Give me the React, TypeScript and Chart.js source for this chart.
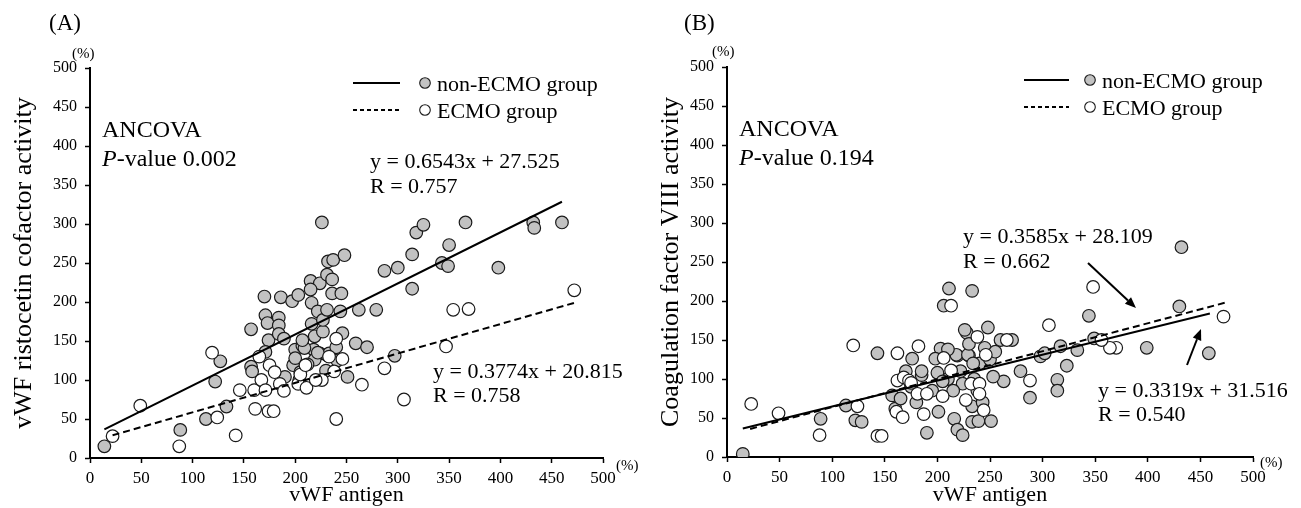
import React, { useEffect, useRef } from "react";
import { Chart, registerables } from "chart.js";

Chart.register(...registerables);

const SERIF = "'Liberation Serif', 'Times New Roman', Times, serif";

// ---------- data ----------
const AXIS_MIN = 0;
const AXIS_MAX = 500;
const AXIS_STEP = 50;

const X_TITLE = "vWF antigen";
const A_Y_TITLE = "vWF ristocetin cofactor activity";
const B_Y_TITLE = "Coagulation factor VIII activity";

const LEGEND_LABELS = ["non-ECMO group", "ECMO group"];

// Panel A: vWF antigen (x) vs vWF ristocetin cofactor activity (y)
const A_NON_ECMO: [number, number][] = [
  [14, 15], [88, 36], [113, 50], [122, 98], [127, 124], [133, 66], [157, 165], [157, 117],
  [158, 111], [170, 207], [171, 183], [173, 173], [174, 151], [171, 136], [184, 180], [184, 170],
  [186, 206], [184, 159], [189, 153], [197, 201], [203, 209], [200, 139], [207, 144], [198, 119],
  [200, 128], [190, 104], [215, 227], [216, 199], [216, 172], [222, 188], [224, 224], [219, 156],
  [218, 139], [227, 162], [224, 134], [231, 132], [227, 177], [219, 126], [232, 252], [237, 254],
  [248, 260], [226, 302], [262, 190], [279, 190], [244, 188], [231, 235], [236, 229], [236, 211],
  [245, 211], [231, 190], [246, 160], [259, 147], [270, 142], [251, 104], [297, 131], [233, 134],
  [209, 141], [207, 151], [287, 240], [300, 244], [314, 261], [318, 289], [325, 299], [343, 250],
  [349, 246], [350, 273], [366, 302], [398, 244], [314, 217], [432, 302], [433, 295], [460, 302],
  [240, 142], [212, 120], [205, 110], [230, 112], [215, 216], [222, 135], [204, 100], [241, 125],
];
const A_ECMO: [number, number][] = [
  [22, 28], [49, 67], [87, 15], [119, 135], [124, 52], [142, 29], [146, 87], [160, 87],
  [161, 63], [167, 100], [171, 87], [174, 60], [179, 60], [175, 119], [165, 130], [185, 95],
  [189, 86], [203, 95], [205, 107], [211, 90], [210, 119], [226, 100], [238, 111], [240, 153],
  [246, 127], [240, 50], [265, 94], [287, 115], [306, 75], [347, 143], [354, 190], [369, 191],
  [472, 215], [180, 110], [233, 130], [220, 100],
];
// regression line end points
const A_NON_LINE: [number, number][] = [[14, 36.7], [460, 328.5]];
const A_ECMO_LINE: [number, number][] = [[22, 29.1], [473, 199.3]];

// Panel B: vWF antigen (x) vs coagulation factor VIII activity (y)
const B_NON_ECMO: [number, number][] = [
  [15, 4], [89, 49], [113, 66], [122, 47], [128, 45], [143, 133], [157, 79], [176, 126],
  [185, 105], [190, 31], [201, 58], [206, 194], [211, 216], [233, 213], [228, 159], [216, 49],
  [219, 35], [224, 28], [224, 94], [203, 139], [230, 130], [219, 130], [198, 126], [233, 45],
  [432, 269], [430, 193], [458, 133], [399, 140], [344, 181], [349, 152], [333, 137], [317, 142],
  [323, 117], [314, 99], [314, 85], [288, 76], [298, 129], [302, 133], [279, 110], [271, 150],
  [260, 150], [226, 163], [248, 166], [263, 97], [253, 103], [239, 46], [251, 46], [233, 65],
  [218, 131], [229, 131], [160, 62], [165, 75], [170, 110], [175, 90], [180, 70], [195, 85],
  [210, 100], [215, 85], [235, 100], [240, 120], [245, 140], [250, 125], [238, 85], [243, 70],
  [255, 135], [230, 145], [210, 138], [200, 108], [205, 97], [185, 110], [222, 110], [234, 120],
];
const B_ECMO: [number, number][] = [
  [23, 68], [49, 56], [88, 28], [120, 143], [124, 65], [143, 27], [147, 27], [162, 133],
  [162, 98], [168, 102], [173, 98], [161, 58], [167, 51], [182, 142], [181, 81], [187, 55],
  [190, 81], [205, 78], [206, 127], [213, 194], [213, 111], [227, 73], [232, 94], [238, 154],
  [240, 94], [348, 218], [472, 180], [306, 169], [370, 140], [364, 140], [356, 150], [288, 98],
  [240, 81], [246, 131], [266, 150], [175, 95], [244, 60],
];
const B_NON_LINE: [number, number][] = [[15, 36.5], [459, 183.9]];
const B_ECMO_LINE: [number, number][] = [[22, 36.0], [474, 198.0]];

const A_TEXTS = {
  label: "(A)",
  ancova: "ANCOVA",
  pItalic: "P",
  pRest: "-value 0.002",
  eq1: ["y = 0.6543x + 27.525", "R = 0.757"],
  eq2: ["y = 0.3774x + 20.815", "R = 0.758"],
};
const B_TEXTS = {
  label: "(B)",
  ancova: "ANCOVA",
  pItalic: "P",
  pRest: "-value 0.194",
  eq1: ["y = 0.3585x + 28.109", "R = 0.662"],
  eq2: ["y = 0.3319x + 31.516", "R = 0.540"],
};

// ---------- layout (canvas-local pixel positions) ----------
type Layout = {
  canvasLeft: number;
  canvasWidth: number;
  yAxisWidth: number;
  xAxisHeight: number;
  padTop: number;
  padRight: number;
  yTitlePad: number;
  label: [number, number];
  yPct: [number, number];
  xPct: [number, number];
  ancova: [number, number];
  legend: { lineX1: number; lineX2: number; dotX: number; textX: number; row1: number; row2: number };
  eq1: [number, number];
  eq2: [number, number];
  arrows: [number, number, number, number][];
};

const LAYOUT_A: Layout = {
  canvasLeft: 0,
  canvasWidth: 650,
  yAxisWidth: 90,
  xAxisHeight: 50,
  padTop: 68,
  padRight: 47,
  yTitlePad: 9,
  label: [49, 30],
  yPct: [72, 58],
  xPct: [616, 470],
  ancova: [102, 137],
  legend: { lineX1: 353, lineX2: 400, dotX: 425, textX: 437, row1: 83, row2: 110 },
  eq1: [370, 168],
  eq2: [433, 378],
  arrows: [],
};

const LAYOUT_B: Layout = {
  canvasLeft: 650,
  canvasWidth: 651,
  yAxisWidth: 77,
  xAxisHeight: 51,
  padTop: 67,
  padRight: 48,
  yTitlePad: 6,
  label: [34, 30],
  yPct: [62, 56],
  xPct: [610, 467],
  ancova: [89, 136],
  legend: { lineX1: 374, lineX2: 419, dotX: 440, textX: 452, row1: 80, row2: 107 },
  eq1: [313, 243],
  eq2: [448, 397],
  arrows: [
    [438, 263, 486, 308],
    [537, 365, 551, 329],
  ],
};

const GRAY = "#c2c2c2";
const EDGE = "#1a1a1a";

type Texts = typeof A_TEXTS;

function toPts(a: [number, number][]) {
  return a.map(([x, y]) => ({ x, y }));
}

function makeAnnotPlugin(t: Texts, L: Layout) {
  return {
    id: "annot",
    afterDraw(chart: any) {
      const ctx: CanvasRenderingContext2D = chart.ctx;
      ctx.save();
      ctx.fillStyle = "#000";
      ctx.strokeStyle = "#000";
      ctx.textAlign = "left";
      ctx.textBaseline = "alphabetic";

      const txt = (s: string, x: number, y: number, size: number, italic = false) => {
        ctx.font = `${italic ? "italic " : ""}${size}px ${SERIF}`;
        ctx.fillText(s, x, y);
        return ctx.measureText(s).width;
      };

      // panel label and units
      txt(t.label, L.label[0], L.label[1], 23);
      txt("(%)", L.yPct[0], L.yPct[1], 15);
      txt("(%)", L.xPct[0], L.xPct[1], 15);

      // ANCOVA
      txt(t.ancova, L.ancova[0], L.ancova[1], 24);
      const w = txt(t.pItalic, L.ancova[0], L.ancova[1] + 29, 24, true);
      txt(t.pRest, L.ancova[0] + w, L.ancova[1] + 29, 24);

      // legend
      const lg = L.legend;
      const rows = [lg.row1, lg.row2];
      rows.forEach((ry, i) => {
        ctx.lineWidth = 2;
        ctx.setLineDash(i === 0 ? [] : [4, 3]);
        ctx.beginPath();
        ctx.moveTo(lg.lineX1, ry);
        ctx.lineTo(lg.lineX2, ry);
        ctx.stroke();
        ctx.setLineDash([]);
        ctx.beginPath();
        ctx.arc(lg.dotX, ry, 5.3, 0, Math.PI * 2);
        ctx.fillStyle = i === 0 ? GRAY : "#fff";
        ctx.fill();
        ctx.lineWidth = 1.1;
        ctx.strokeStyle = EDGE;
        ctx.stroke();
        ctx.strokeStyle = "#000";
        ctx.fillStyle = "#000";
        txt(LEGEND_LABELS[i], lg.textX, ry + 7.5, 22);
      });

      // equations
      txt(t.eq1[0], L.eq1[0], L.eq1[1], 22);
      txt(t.eq1[1], L.eq1[0], L.eq1[1] + 25, 22);
      txt(t.eq2[0], L.eq2[0], L.eq2[1], 22);
      txt(t.eq2[1], L.eq2[0], L.eq2[1] + 24, 22);

      // arrows
      L.arrows.forEach(([x1, y1, x2, y2]) => {
        const ang = Math.atan2(y2 - y1, x2 - x1);
        const hl = 11;
        const hw = 4.5;
        const bx = x2 - hl * Math.cos(ang);
        const by = y2 - hl * Math.sin(ang);
        ctx.lineWidth = 2;
        ctx.beginPath();
        ctx.moveTo(x1, y1);
        ctx.lineTo(bx, by);
        ctx.stroke();
        ctx.beginPath();
        ctx.moveTo(x2, y2);
        ctx.lineTo(bx + hw * Math.sin(ang), by - hw * Math.cos(ang));
        ctx.lineTo(bx - hw * Math.sin(ang), by + hw * Math.cos(ang));
        ctx.closePath();
        ctx.fill();
      });

      ctx.restore();
    },
  };
}

function makeConfig(
  nonPts: [number, number][],
  ecmoPts: [number, number][],
  nonLine: [number, number][],
  ecmoLine: [number, number][],
  yTitle: string,
  t: Texts,
  L: Layout
): any {
  const axisCommon = {
    type: "linear",
    min: AXIS_MIN,
    max: AXIS_MAX,
    grid: {
      drawOnChartArea: false,
      drawTicks: true,
      tickLength: 5,
      color: "#000",
      tickWidth: 1.5,
    },
    border: { display: true, color: "#000", width: 2 },
  };
  return {
    type: "scatter",
    data: {
      datasets: [
        {
          label: "non-ECMO regression",
          data: toPts(nonLine),
          showLine: true,
          borderColor: "#000",
          borderWidth: 2,
          pointRadius: 0,
          order: 0,
        },
        {
          label: "ECMO regression",
          data: toPts(ecmoLine),
          showLine: true,
          borderColor: "#000",
          borderWidth: 2,
          borderDash: [7, 4],
          pointRadius: 0,
          order: 0,
        },
        {
          label: LEGEND_LABELS[1],
          data: toPts(ecmoPts),
          backgroundColor: "#fff",
          borderColor: EDGE,
          borderWidth: 1.2,
          pointRadius: 6.3,
          order: 1,
        },
        {
          label: LEGEND_LABELS[0],
          data: toPts(nonPts),
          backgroundColor: GRAY,
          borderColor: EDGE,
          borderWidth: 1.2,
          pointRadius: 6.3,
          order: 2,
        },
      ],
    },
    options: {
      responsive: false,
      animation: false,
      events: [],
      layout: { padding: { left: 0, right: L.padRight, top: L.padTop, bottom: 0 } },
      plugins: { legend: { display: false }, tooltip: { enabled: false } },
      scales: {
        x: {
          ...axisCommon,
          position: "bottom",
          ticks: {
            stepSize: AXIS_STEP,
            color: "#000",
            font: { family: SERIF, size: 17 },
            padding: 5,
            maxRotation: 0,
            autoSkip: false,
          },
          title: {
            display: true,
            text: X_TITLE,
            color: "#000",
            font: { family: SERIF, size: 22, lineHeight: 1.2 },
            padding: { top: 0, bottom: 0 },
          },
          afterFit: (s: any) => {
            s.height = L.xAxisHeight;
          },
        },
        y: {
          ...axisCommon,
          position: "left",
          ticks: {
            stepSize: AXIS_STEP,
            color: "#000",
            font: { family: SERIF, size: 16 },
            padding: 8,
            autoSkip: false,
          },
          title: {
            display: true,
            text: yTitle,
            color: "#000",
            font: { family: SERIF, size: 26, lineHeight: 1.2 },
            padding: { top: L.yTitlePad, bottom: 0 },
          },
          afterFit: (s: any) => {
            s.width = L.yAxisWidth;
          },
        },
      },
    },
    plugins: [makeAnnotPlugin(t, L)],
  };
}

function Panel(props: {
  nonPts: [number, number][];
  ecmoPts: [number, number][];
  nonLine: [number, number][];
  ecmoLine: [number, number][];
  yTitle: string;
  texts: Texts;
  layout: Layout;
}) {
  const ref = useRef<HTMLCanvasElement | null>(null);
  useEffect(() => {
    if (!ref.current) return;
    const chart = new Chart(
      ref.current,
      makeConfig(
        props.nonPts,
        props.ecmoPts,
        props.nonLine,
        props.ecmoLine,
        props.yTitle,
        props.texts,
        props.layout
      )
    );
    return () => chart.destroy();
  }, []);
  const L = props.layout;
  return (
    <canvas
      ref={ref}
      width={L.canvasWidth}
      height={508}
      style={{ position: "absolute", left: L.canvasLeft, top: 0, width: L.canvasWidth, height: 508 }}
    />
  );
}

export default function App() {
  return (
    <div
      style={{
        position: "fixed",
        left: 0,
        top: 0,
        width: 1301,
        height: 508,
        background: "#fff",
        overflow: "hidden",
      }}
    >
      <Panel
        nonPts={A_NON_ECMO}
        ecmoPts={A_ECMO}
        nonLine={A_NON_LINE}
        ecmoLine={A_ECMO_LINE}
        yTitle={A_Y_TITLE}
        texts={A_TEXTS}
        layout={LAYOUT_A}
      />
      <Panel
        nonPts={B_NON_ECMO}
        ecmoPts={B_ECMO}
        nonLine={B_NON_LINE}
        ecmoLine={B_ECMO_LINE}
        yTitle={B_Y_TITLE}
        texts={B_TEXTS}
        layout={LAYOUT_B}
      />
    </div>
  );
}
